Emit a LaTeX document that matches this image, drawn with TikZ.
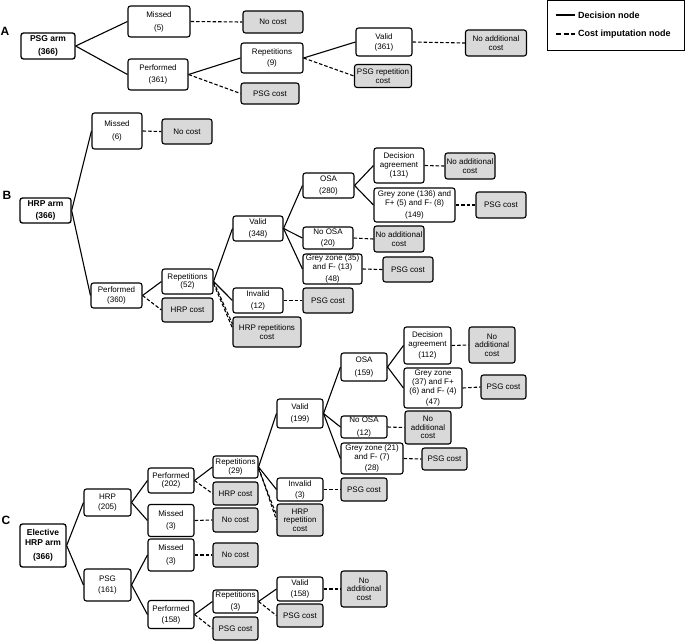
\documentclass[tikz,border=0pt]{standalone}
\usepackage{fontspec}
\setmainfont{Liberation Sans}
\definecolor{costgrey}{RGB}{217,217,217}
\tikzset{
  box/.style={draw, rounded corners=2.5pt, line width=1.1pt, align=center, inner sep=0.5pt,
    font=\fontsize{8}{8.6}\selectfont},
  dec/.style={box, fill=white},
  cost/.style={box, fill=costgrey},
  root/.style={box, fill=white, line width=1.3pt, font=\bfseries\fontsize{8.5}{10}\selectfont},
  sz/.style 2 args={minimum width=#1pt, minimum height=#2pt},
  sol/.style={line width=1.1pt},
  das/.style={line width=1.1pt, dash pattern=on 3.5pt off 2pt},
  legdas/.style={line width=1.1pt, dash pattern=on 5pt off 2.5pt},
  sect/.style={font=\bfseries\fontsize{12}{12}\selectfont, inner sep=0pt},
  legtxt/.style={font=\bfseries\fontsize{9}{10}\selectfont, anchor=west, inner sep=0pt},
}
\begin{document}
\begin{tikzpicture}[x=1pt, y=-1pt]
\useasboundingbox (0,0) rectangle (685,643);

% legend
\draw[line width=0.8pt] (547,0.5) rectangle (684,50.5);
\coordinate (l1a) at (556,15); \coordinate (l1b) at (575,15);
\coordinate (l2a) at (556,34); \coordinate (l2b) at (575,34);
\draw[sol] (l1a) -- (l1b);
\draw[legdas] (l2a) -- (l2b);
\node[legtxt] (lt1) at (578,15) {Decision node};
\node[legtxt] (lt2) at (578,34) {Cost imputation node};

% section letters
\node[sect] (secA) at (5,31) {A};
\node[sect] (secB) at (7,195) {B};
\node[sect] (secC) at (6,520) {C};

% ---------------- A ----------------
\node[root, sz={54}{26}] (psgarm) at (48,46) {PSG arm\\[3pt](366)};
\node[dec, sz={62}{31}] (amissed) at (159,21.5) {Missed\\[4.5pt](5)};
\node[cost, sz={60}{22}] (anocost) at (273,22) {No cost};
\node[dec, sz={60}{31}] (aperf) at (158,74.5) {Performed\\[3pt](361)};
\node[dec, sz={62}{30}] (arep) at (272,58) {Repetitions\\[3pt](9)};
\node[cost, sz={58}{21}] (apsg) at (270,93.5) {PSG cost};
\node[dec, sz={56}{28}] (avalid) at (384,42) {Valid\\[1.5pt](361)};
\node[cost, sz={61}{26}] (anoadd) at (496,43) {No additional\\cost};
\node[cost, sz={57}{23}] (arepcost) at (383,76) {PSG repetition\\cost};

\draw[sol] (psgarm.east) -- (amissed.west);
\draw[sol] (psgarm.east) -- (aperf.west);
\draw[das] (amissed.east) -- (anocost.west);
\draw[sol] (aperf.east) -- (arep.west);
\draw[das] (aperf.east) -- (apsg.west);
\draw[sol] (arep.east) -- (avalid.west);
\draw[das] (arep.east) -- (arepcost.west);
\draw[das] (avalid.east) -- (anoadd.west);

% ---------------- B ----------------
\node[root, sz={51}{25}] (hrparm) at (45.5,210.5) {HRP arm\\[1.5pt](366)};
\node[dec, sz={50}{36}] (bmissed) at (117,131) {Missed\\[4.5pt](6)};
\node[cost, sz={50}{25}] (bnocost) at (187,131.5) {No cost};
\node[dec, sz={51}{25}] (bperf) at (116.5,295.5) {Performed\\[0.8pt](360)};
\node[dec, sz={51}{25}] (brep) at (187.5,281.5) {Repetitions\\(52)};
\node[cost, sz={51}{24}] (bhrpcost) at (187.5,310) {HRP cost};
\node[dec, sz={50}{25}] (bvalid) at (258,228.5) {Valid\\[3pt](348)};
\node[dec, sz={50}{25}] (binvalid) at (258,300.5) {Invalid\\[3pt](12)};
\node[cost, sz={50}{25}] (bpsg3) at (328,300.5) {PSG cost};
\node[cost, sz={68}{30}] (bhrprep) at (267,332) {HRP repetitions\\[0.8pt]cost};
\node[dec, sz={51}{25}] (bosa) at (328.5,185.5) {OSA\\[3pt](280)};
\node[dec, sz={50}{22}] (bnoosa) at (328,238) {No OSA\\[3pt](20)};
\node[dec, sz={59}{30}] (bgrey2) at (332.5,269) {Grey zone (35)\\and F- (13)\\[3pt](48)};
\node[cost, sz={50}{25}] (bpsg2) at (408,269.5) {PSG cost};
\node[cost, sz={50}{26}] (bnoadd2) at (399,239) {No additional\\cost};
\node[dec, sz={50}{35}] (bdec) at (399,165.5) {Decision\\agreement\\(131)};
\node[cost, sz={50}{26}] (bnoadd1) at (470,166) {No additional\\cost};
\node[dec, sz={81}{34}] (bgrey1) at (414.5,205) {Grey zone (136) and\\F+ (5) and F- (8)\\[3pt](149)};
\node[cost, sz={50}{26}] (bpsg1) at (501,205) {PSG cost};

\draw[sol] (hrparm.east) -- (bmissed.west);
\draw[sol] (hrparm.east) -- (bperf.west);
\draw[das] (bmissed.east) -- (bnocost.west);
\draw[sol] (bperf.east) -- (brep.west);
\draw[das] (bperf.east) -- (bhrpcost.west);
\draw[sol] (brep.east) -- (bvalid.west);
\draw[sol] (brep.east) -- (binvalid.west);
\draw[das] (brep.east) -- ([yshift=8pt]bhrprep.west);
\draw[das] ([yshift=-2pt]brep.east) -- ([yshift=4pt]bhrprep.west);
\draw[das] (binvalid.east) -- (bpsg3.west);
\draw[sol] (bvalid.east) -- (bosa.west);
\draw[sol] (bvalid.east) -- (bnoosa.west);
\draw[sol] (bvalid.east) -- (bgrey2.west);
\draw[das] (bnoosa.east) -- (bnoadd2.west);
\draw[das] (bgrey2.east) -- (bpsg2.west);
\draw[sol] (bosa.east) -- (bdec.west);
\draw[sol] (bosa.east) -- (bgrey1.west);
\draw[das] (bdec.east) -- (bnoadd1.west);
\draw[das] (bgrey1.east) -- (bpsg1.west);

% ---------------- C ----------------
\node[root, sz={46}{43}] (elec) at (43,545.5) {Elective\\HRP arm\\[4.5pt](366)};
\node[dec, sz={47}{27}] (chrp) at (107.5,502.5) {HRP\\[2.2pt](205)};
\node[dec, sz={47}{32}] (cpsg) at (107.5,585) {PSG\\[2.5pt](161)};
\node[dec, sz={46}{25}] (cperf1) at (171,480.5) {Performed\\(202)};
\node[dec, sz={46}{32}] (cmiss1) at (171,520.5) {Missed\\[4pt](3)};
\node[dec, sz={46}{32}] (cmiss2) at (171,555) {Missed\\[4pt](3)};
\node[dec, sz={46}{28}] (cperf2) at (171,614.5) {Performed\\[2.5pt](158)};
\node[dec, sz={45}{22}] (crep1) at (235.5,467) {Repetitions\\(29)};
\node[cost, sz={45}{23}] (chrpcost) at (235.5,493.5) {HRP cost};
\node[cost, sz={45}{24}] (cnocost1) at (235.5,520) {No cost};
\node[cost, sz={45}{24}] (cnocost2) at (235.5,555) {No cost};
\node[dec, sz={45}{23}] (crep2) at (235.5,601.5) {Repetitions\\[4pt](3)};
\node[cost, sz={45}{23}] (cpsgb) at (235.5,628.5) {PSG cost};
\node[dec, sz={46}{24}] (cvalid2) at (300,589) {Valid\\[3pt](158)};
\node[cost, sz={46}{23}] (cpsgv) at (300,615.5) {PSG cost};
\node[cost, sz={46}{36}] (cnoadd3) at (364,589) {No\\additional\\cost};
\node[dec, sz={46}{29}] (cvalid1) at (300,413.5) {Valid\\[4pt](199)};
\node[dec, sz={46}{23}] (cinvalid) at (300,489.5) {Invalid\\[2.5pt](3)};
\node[cost, sz={46}{32}] (chrprep) at (300,520) {HRP\\repetition\\cost};
\node[cost, sz={46}{23}] (cpsg3) at (364,489.5) {PSG cost};
\node[dec, sz={46}{28}] (cosa) at (364,367) {OSA\\[3.5pt](159)};
\node[dec, sz={46}{22}] (cnoosa) at (364,427) {No OSA\\[3.5pt](12)};
\node[dec, sz={62}{31}] (cgrey2) at (372,458.5) {Grey zone (21)\\and F- (7)\\[3pt](28)};
\node[cost, sz={46}{33}] (cnoadd2) at (428,427.5) {No\\additional\\cost};
\node[cost, sz={45}{22}] (cpsg2) at (444.5,459) {PSG cost};
\node[dec, sz={47}{37}] (cdec) at (427.5,345.5) {Decision\\agreement\\[3pt](112)};
\node[cost, sz={46}{36}] (cnoadd1) at (492,345) {No\\additional\\cost};
\node[dec, sz={58}{40}] (cgrey1) at (433,388) {Grey zone\\(37) and F+\\(6) and F- (4)\\[2.5pt](47)};
\node[cost, sz={45}{24}] (cpsg1) at (503.5,387) {PSG cost};

\draw[sol] (elec.east) -- (chrp.west);
\draw[sol] (elec.east) -- (cpsg.west);
\draw[sol] (chrp.east) -- (cperf1.west);
\draw[sol] (chrp.east) -- (cmiss1.west);
\draw[sol] (cpsg.east) -- (cmiss2.west);
\draw[sol] (cpsg.east) -- (cperf2.west);
\draw[sol] (cperf1.east) -- (crep1.west);
\draw[das] (cperf1.east) -- (chrpcost.west);
\draw[das] (cmiss1.east) -- (cnocost1.west);
\draw[das] (cmiss2.east) -- (cnocost2.west);
\draw[sol] (cperf2.east) -- (crep2.west);
\draw[das] (cperf2.east) -- (cpsgb.west);
\draw[sol] (crep2.east) -- (cvalid2.west);
\draw[das] (crep2.east) -- (cpsgv.west);
\draw[das] (cvalid2.east) -- (cnoadd3.west);
\draw[sol] (crep1.east) -- (cvalid1.west);
\draw[sol] (crep1.east) -- (cinvalid.west);
\draw[das] (crep1.east) -- (chrprep.west);
\draw[das] ([yshift=-2pt]crep1.east) -- ([yshift=5pt]chrprep.west);
\draw[das] (cinvalid.east) -- (cpsg3.west);
\draw[sol] (cvalid1.east) -- (cosa.west);
\draw[sol] (cvalid1.east) -- (cnoosa.west);
\draw[sol] (cvalid1.east) -- (cgrey2.west);
\draw[das] (cnoosa.east) -- (cnoadd2.west);
\draw[das] (cgrey2.east) -- (cpsg2.west);
\draw[sol] (cosa.east) -- (cdec.west);
\draw[sol] (cosa.east) -- (cgrey1.west);
\draw[das] (cdec.east) -- (cnoadd1.west);
\draw[das] (cgrey1.east) -- (cpsg1.west);
\end{tikzpicture}
\end{document}
